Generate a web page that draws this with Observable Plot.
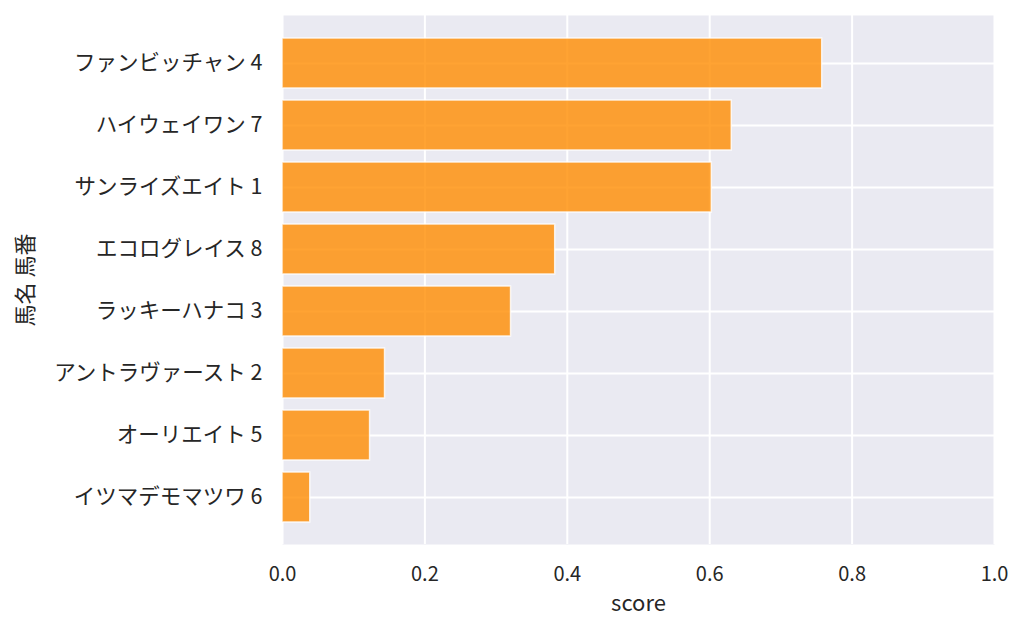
<!DOCTYPE html>
<html>
<head>
<meta charset="utf-8">
<script src="https://cdn.jsdelivr.net/npm/d3@7"></script>
<script src="https://cdn.jsdelivr.net/npm/@observablehq/plot@0.6"></script>
<style>
  html, body { margin: 0; padding: 0; background: #fff; }
  svg { display: block; }
</style>
</head>
<body>
<div id="chart"></div>
<script>
const horses = ["ファンビッチャン 4", "ハイウェイワン 7", "サンライズエイト 1", "エコログレイス 8", "ラッキーハナコ 3", "アントラヴァースト 2", "オーリエイト 5", "イツマデモマツワ 6"];
const scores = [0.758, 0.631, 0.603, 0.383, 0.321, 0.144, 0.123, 0.039];
const xTicks = [0, 0.2, 0.4, 0.6, 0.8, 1.0];

const data = horses.map((h, i) => ({horse: h, score: scores[i]}));

const chart = Plot.plot({
  width: 1024,
  height: 634,
  marginLeft: 282,
  marginRight: 30,
  marginTop: 15,
  marginBottom: 90,
  style: {fontFamily: "'Noto Sans CJK JP', 'Noto Sans', sans-serif", fontSize: "20px", color: "#262626", background: "#fff"},
  x: {domain: [0, 1], ticks: xTicks, tickFormat: d => d.toFixed(1), label: null},
  y: {domain: horses, paddingInner: 0.2, paddingOuter: 0.36, label: null},
  marks: [
    Plot.frame({fill: "#eaeaf2", stroke: null}),
    Plot.gridX(xTicks, {stroke: "#fff", strokeOpacity: 1, strokeWidth: 2}),
    Plot.gridY({stroke: "#fff", strokeOpacity: 1, strokeWidth: 2}),
    Plot.barX(data, {x: "score", y: "horse", fill: "#ff8c00", fillOpacity: 0.8, stroke: "#fff", strokeOpacity: 0.8, strokeWidth: 1.5}),
    Plot.axisX(xTicks, {tickSize: 0, tickPadding: 22, fontSize: 20, tickFormat: d => d.toFixed(1), label: null}),
    Plot.axisY({tickSize: 0, tickPadding: 20, fontSize: 21.5, label: null}),
    Plot.text(["score"], {frameAnchor: "bottom", dy: 66, fontSize: 22, text: d => d}),
    Plot.text(["馬名 馬番"], {frameAnchor: "left", textAnchor: "middle", dx: -257, rotate: -90, fontSize: 22, text: d => d})
  ]
});
document.getElementById("chart").appendChild(chart);
</script>
</body>
</html>
